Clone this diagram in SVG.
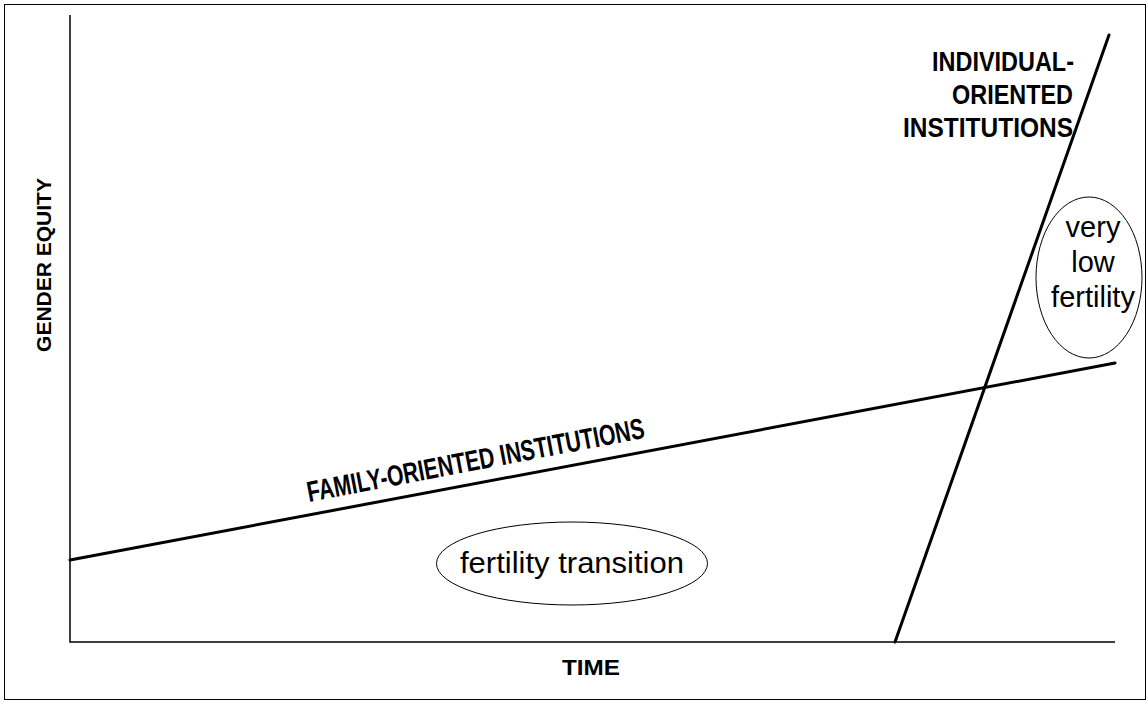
<svg xmlns="http://www.w3.org/2000/svg" width="1148" height="704" viewBox="0 0 1148 704">
<style>
.ax{stroke:#000;stroke-width:1.5;fill:none}
.ln{stroke:#000;stroke-width:3;fill:none;stroke-linecap:round}
.el{stroke:#000;stroke-width:1;fill:none}
.b{font-family:"Liberation Sans",Arial,sans-serif;font-weight:bold;fill:#000}
.r{font-family:"Liberation Sans",Arial,sans-serif;fill:#000}
</style>
<rect x="4.5" y="4.5" width="1141" height="695" fill="#fff" stroke="#000" stroke-width="1"/>
<g id="axes">
<polyline class="ax" points="70,15 70,642 1115,642"/>
</g>
<g id="connectors">
<line class="ln" x1="70" y1="560" x2="1115" y2="363"/>
<line class="ln" x1="895" y1="642" x2="1109" y2="35"/>
</g>
<g id="y-label"><text class="b" font-size="21" text-anchor="middle" transform="translate(51,265) rotate(-90)">GENDER EQUITY</text></g>
<g id="x-label"><text class="b" font-size="22" text-anchor="middle" x="591" y="675" textLength="58" lengthAdjust="spacingAndGlyphs">TIME</text></g>
<g id="family-label"><text class="b" font-size="29" transform="translate(309,502) rotate(-10.8)" textLength="343" lengthAdjust="spacingAndGlyphs">FAMILY-ORIENTED INSTITUTIONS</text></g>
<g id="individual-label" class="b" font-size="27" text-anchor="end">
<text x="1074" y="71" textLength="142" lengthAdjust="spacingAndGlyphs">INDIVIDUAL-</text>
<text x="1073" y="104" textLength="121" lengthAdjust="spacingAndGlyphs">ORIENTED</text>
<text x="1073" y="137" textLength="170" lengthAdjust="spacingAndGlyphs">INSTITUTIONS</text>
</g>
<g id="fertility-transition">
<ellipse class="el" cx="572" cy="563.5" rx="135.5" ry="41.5"/>
<text class="r" font-size="29" text-anchor="middle" x="572" y="573" textLength="224" lengthAdjust="spacingAndGlyphs">fertility transition</text>
</g>
<g id="very-low-fertility">
<ellipse class="el" cx="1089" cy="277.5" rx="53" ry="80.5"/>
<text class="r" font-size="29" text-anchor="middle" x="1093" y="237">very</text>
<text class="r" font-size="29" text-anchor="middle" x="1093" y="272">low</text>
<text class="r" font-size="29" text-anchor="middle" x="1093" y="307">fertility</text>
</g>
</svg>
